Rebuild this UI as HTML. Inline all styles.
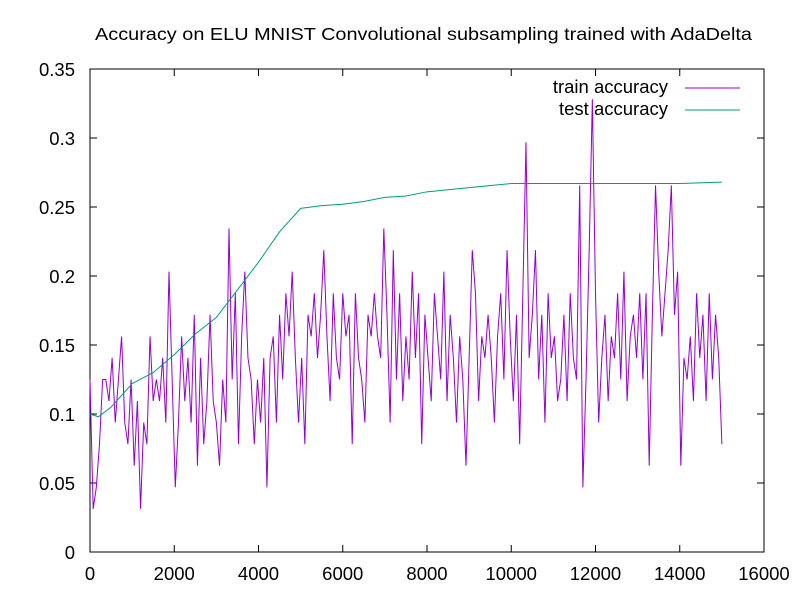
<!DOCTYPE html>
<html><head><meta charset="utf-8"><style>
body{margin:0;background:#fff}
svg{display:block;font-family:"Liberation Sans",sans-serif}
</style></head><body>
<svg id="chart" width="800" height="600" xmlns="http://www.w3.org/2000/svg">
<rect width="800" height="600" fill="#fff"/>
<text x="95" y="40" font-size="17.5" textLength="657" lengthAdjust="spacingAndGlyphs">Accuracy on ELU MNIST Convolutional subsampling trained with AdaDelta</text>
<rect x="90" y="69" width="674" height="483" fill="none" stroke="#000" stroke-width="1"/>
<g id="ticks"></g>
<g id="series"></g>
<g>
<text x="668" y="93" font-size="18.5" text-anchor="end">train accuracy</text>
<line x1="685" y1="88" x2="740" y2="88" stroke="#9400d3" stroke-width="1"/>
<text x="668" y="115" font-size="18.5" text-anchor="end">test accuracy</text>
<line x1="685" y1="110" x2="740" y2="110" stroke="#009e73" stroke-width="1"/>
</g>
</svg>
<script>
const xTicks=[0,2000,4000,6000,8000,10000,12000,14000,16000];
const yTicks=[0,0.05,0.1,0.15,0.2,0.25,0.3,0.35];
const yTickLabels=["0","0.05","0.1","0.15","0.2","0.25","0.3","0.35"];
const trainStep=75;
const trainUnits=[8,2,3,5,8,8,7,9,6,8,
10,6,5,8,4,7,2,6,5,10,
7,8,7,9,6,13,8,3,6,10,
7,9,6,11,4,9,5,7,11,7,
6,4,8,6,15,8,12,5,10,13,
9,8,5,8,6,9,3,9,10,6,
11,8,12,10,13,9,6,9,5,11,
10,12,9,11,14,10,7,12,9,8,
12,10,11,5,12,9,8,6,11,10,
12,10,9,15,11,6,14,8,12,7,
10,8,13,9,12,5,11,9,7,12,
10,8,13,7,11,9,6,10,8,4,
9,14,12,7,10,9,11,9,6,10,
12,8,14,10,7,11,5,12,19,9,
11,14,8,11,6,12,9,10,7,8,
11,7,12,9,8,17,3,8,14,21,
12,6,9,11,7,10,9,12,8,13,
7,10,11,9,12,8,12,4,11,17,
13,10,12,14,17,11,13,4,9,8,
10,7,12,9,11,7,12,8,11,9,
5];
const testX=[0,200,500,1000,1500,2000,2500,3000,3500,4000,4500,5000,5500,6000,6500,7000,7500,8000,9000,10000,11000,12000,13000,14000,15000];
const testY=[0.1,0.098,0.105,0.122,0.13,0.143,0.158,0.17,0.19,0.21,0.232,0.249,0.251,0.252,0.254,0.257,0.258,0.261,0.264,0.267,0.267,0.267,0.267,0.267,0.268];
const X=v=>90+v/16000*674, Y=v=>552-v/0.35*483;
const NS="http://www.w3.org/2000/svg";
const tg=document.getElementById('ticks'), sg=document.getElementById('series');
function mk(t,a,p){const e=document.createElementNS(NS,t);for(const k in a)e.setAttribute(k,a[k]);p.appendChild(e);return e;}
xTicks.forEach((v,i)=>{
 const l=mk('path',{d:`M${X(v)},552v-7M${X(v)},69v7`,stroke:'#000'},tg);
 
 
 const t=mk('text',{x:X(v),y:580,'font-size':18.5,'text-anchor':'middle'},tg);t.textContent=String(v);
 
 
});
yTicks.forEach((v,i)=>{
 const l=mk('path',{d:`M90,${Y(v)}h7M764,${Y(v)}h-7`,stroke:'#000'},tg);
 
 
 const t=mk('text',{x:75,y:Y(v)+7,'font-size':18.5,'text-anchor':'end'},tg);t.textContent=yTickLabels[i];
 
 
});
const trainPts=trainUnits.map((u,i)=>X(i*trainStep).toFixed(2)+','+Y(u/64).toFixed(2)).join(' ');
const tr=mk('polyline',{points:trainPts,fill:'none',stroke:'#9400d3','stroke-width':1},sg);


const testPts=testX.map((x,i)=>X(x).toFixed(2)+','+Y(testY[i]).toFixed(2)).join(' ');
const te=mk('polyline',{points:testPts,fill:'none',stroke:'#009e73','stroke-width':1},sg);


</script>
</body></html>
